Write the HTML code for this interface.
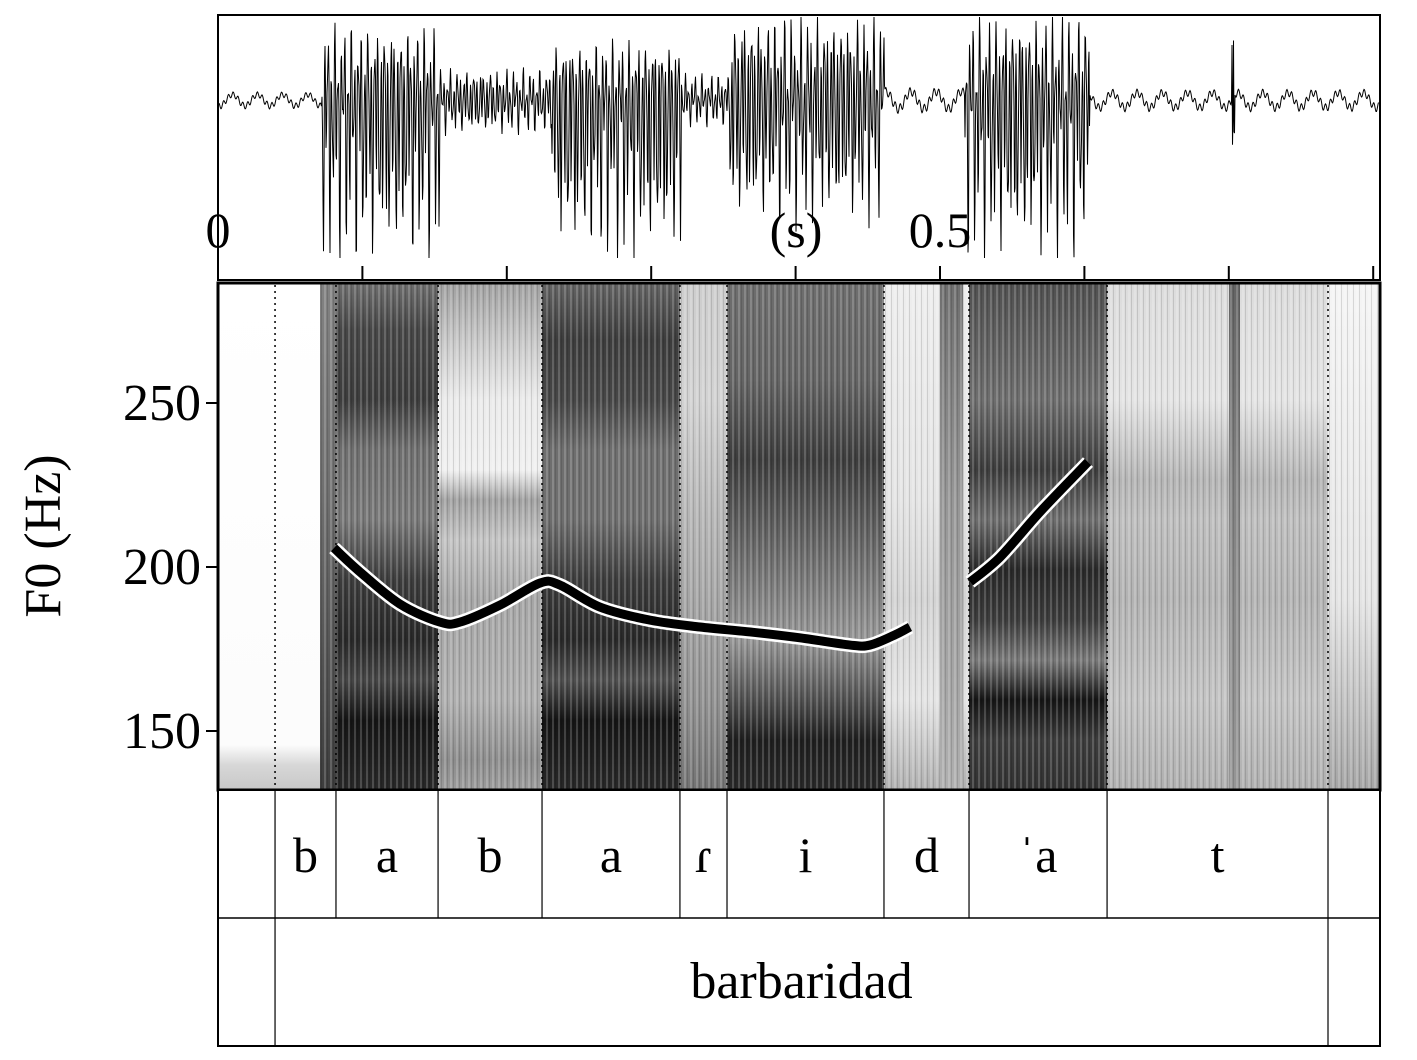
<!DOCTYPE html>
<html><head><meta charset="utf-8"><style>
html,body{margin:0;padding:0;background:#fff;}
svg{display:block;font-family:"Liberation Serif",serif;}
</style></head><body>
<svg id="fig" width="1417" height="1060" viewBox="0 0 1417 1060">
<defs id="defs"></defs>
<g id="spec"></g>
<g id="wave"></g>
<g id="axes"></g>
<g id="tiers"></g>
<g id="pitch"></g>
</svg>
<script>
// ---- data ----
const xTicks = [0,0.1,0.2,0.3,0.4,0.5,0.6,0.7,0.8];
const yTicks = [150,200,250];
const segBounds = [0.0395,0.0817,0.1524,0.2244,0.3199,0.3525,0.4612,0.5201,0.6157,0.7687];
const segLabels = ["b","a","b","a","ɾ","i","d","ˈa","t"];
const wordBounds = [0.0395,0.7687];
const wordLabels = ["barbaridad"];
const pitch1T = [0.0803,0.0983,0.126,0.1537,0.1676,0.1953,0.223,0.2368,0.2645,0.2992,0.3338,0.3684,0.4030,0.4377,0.4515,0.4688,0.4792];
const pitch1F = [205.8,198.5,188.7,183.2,183.2,188.4,195.1,194.5,187.8,183.8,181.7,180.2,178.4,176.2,176.2,179.3,181.7];
const pitch2T = [0.5208,0.5416,0.5693,0.6025];
const pitch2F = [195.4,203.0,216.8,232.0];

// ---- scales ----
const X0=218, PXS=1444;
const sx = t => X0 + t*PXS;
const sy = f => 731 - (f-150)*3.28;
const NS="http://www.w3.org/2000/svg";
function el(tag, attrs, parent){const e=document.createElementNS(NS,tag);for(const k in attrs)e.setAttribute(k,attrs[k]);parent.appendChild(e);return e;}
const defs=document.getElementById('defs');

// ---- spectrogram ----
const spec=document.getElementById('spec');
const cols=[
 [218,320,[[283,255],[745,252],[765,215],[790,200]]],
 [320,336,[[283,130],[500,110],[790,60]]],
 [336,438,[[283,110],[330,70],[400,60],[450,110],[520,120],[580,60],[640,40],[680,70],[720,20],[790,40]]],
 [438,542,[[283,160],[350,205],[400,235],[470,240],[500,160],[540,195],[600,165],[700,175],[760,140],[790,155]]],
 [542,680,[[283,100],[340,60],[400,70],[450,110],[520,110],[580,60],[640,40],[680,80],[720,20],[790,40]]],
 [680,727,[[283,205],[400,210],[500,185],[600,165],[700,145],[790,115]]],
 [727,884,[[283,110],[380,100],[460,60],[500,80],[560,110],[640,150],[700,80],[740,30],[790,40]]],
 [884,969,[[283,238],[500,228],[600,210],[700,228],[790,175]]],
 [969,1107,[[283,80],[400,110],[470,60],[520,110],[570,40],[620,60],[660,120],[700,20],[740,60],[790,50]]],
 [1107,1328,[[283,220],[400,228],[480,180],[520,190],[600,178],[700,195],[790,175]]],
 [1328,1380,[[283,245],[600,228],[790,165]]],
 [940,963,[[283,110],[500,150],[790,175]]],
 [1229,1240,[[283,100],[500,130],[790,150]]]
];
cols.forEach((c,i)=>{
  const g=el('linearGradient',{id:'g'+i,x1:0,y1:283,x2:0,y2:790,gradientUnits:'userSpaceOnUse'},defs);
  c[2].forEach(s=>{const v=s[1];el('stop',{offset:((s[0]-283)/507).toFixed(3),'stop-color':`rgb(${v},${v},${v})`},g);});
  const r=el('rect',{x:c[0],y:283,width:c[1]-c[0],height:507,fill:`url(#g${i})`},spec);
  
  
});
const pat=el('pattern',{id:'stripe',width:6,height:40,patternUnits:'userSpaceOnUse'},defs);
el('rect',{x:0,y:0,width:2,height:40,fill:'#fff',opacity:0.18},pat);
el('rect',{x:3,y:0,width:1,height:40,fill:'#000',opacity:0.12},pat);
el('rect',{x:320,y:283,width:1060,height:507,fill:'url(#stripe)'},spec);
el('rect',{x:218,y:283,width:1162,height:507,fill:'none',stroke:'#000','stroke-width':3},spec);
segBounds.forEach(t=>{
  const l=el('line',{x1:sx(t),x2:sx(t),y1:285,y2:789,stroke:'#000','stroke-width':1.5,'stroke-dasharray':'2 4'},spec);
  
  
});

// ---- waveform ----
const wave=document.getElementById('wave');
const env=[[218,322,9,10],[322,440,70,155],[440,552,30,32],[552,682,55,150],[682,730,25,25],[730,885,82,118],[885,965,14,15],[965,1090,80,150],[1090,1380,12,13]];
function amp(x){for(const e of env){if(x>=e[0]&&x<e[1])return e;}return env[env.length-1];}
let d='';
for(let x=219;x<1379;x+=0.5){
  const e=amp(x);
  let v=Math.sin(x*1.9)*0.6+Math.sin(x*0.77+1)*0.3+Math.sin(x*3.1)*0.25;
  if(e[2]<20) v=Math.sin(x*0.25)*0.6+Math.sin(x*1.3)*0.3;
  let y=v>0?100-v*e[2]:100-v*e[3];
  if(Math.abs(x-1233)<2) y=100-60*Math.sin(x*4);
  y=Math.max(17,Math.min(258,y));
  d+=(d?'L':'M')+x.toFixed(1)+' '+y.toFixed(1);
}
el('path',{d:d,fill:'none',stroke:'#000','stroke-width':1},wave);
el('rect',{x:218,y:15,width:1162,height:265,fill:'none',stroke:'#000','stroke-width':2},wave);

// ---- axes ----
const axes=document.getElementById('axes');
xTicks.forEach(t=>{
  const l=el('line',{x1:sx(t),x2:sx(t),y1:266,y2:280,stroke:'#000','stroke-width':2},axes);
  
  
});
[['0',218],['(s)',796],['0.5',940]].forEach(a=>{
  const tx=el('text',{x:a[1],y:247,'font-size':50,'text-anchor':'middle'},axes);tx.textContent=a[0];
  
  
});
yTicks.forEach(f=>{
  el('line',{x1:206,x2:218,y1:sy(f),y2:sy(f),stroke:'#000','stroke-width':2},axes);
  const tx=el('text',{x:201,y:sy(f)+17,'font-size':52,'text-anchor':'end'},axes);tx.textContent=f;
  
  
});
const yt=el('text',{x:0,y:0,'font-size':52,'text-anchor':'middle',transform:'translate(60,536) rotate(-90)'},axes);
yt.textContent='F0 (Hz)';



// ---- tiers ----
const tiers=document.getElementById('tiers');
el('rect',{x:218,y:790,width:1162,height:256,fill:'#fff',stroke:'#000','stroke-width':2},tiers);
el('line',{x1:218,x2:1380,y1:918,y2:918,stroke:'#000','stroke-width':1.5},tiers);
segBounds.forEach(t=>el('line',{x1:sx(t),x2:sx(t),y1:790,y2:918,stroke:'#000','stroke-width':1.2},tiers));
segLabels.forEach((s,i)=>{
  const tx=el('text',{x:(sx(segBounds[i])+sx(segBounds[i+1]))/2,y:872,'font-size':50,'text-anchor':'middle'},tiers);
  tx.textContent=s;
  
  
});
wordBounds.forEach(t=>el('line',{x1:sx(t),x2:sx(t),y1:918,y2:1046,stroke:'#000','stroke-width':1.2},tiers));
wordLabels.forEach((w,i)=>{
  const tx=el('text',{x:(sx(wordBounds[i])+sx(wordBounds[i+1]))/2,y:998,'font-size':52,'text-anchor':'middle'},tiers);
  tx.textContent=w;
  
  
});

// ---- pitch ----
const pitch=document.getElementById('pitch');
function smooth(T,F){
  const p=T.map((t,i)=>[sx(t),sy(F[i])]);
  let s='M'+p[0][0]+' '+p[0][1];
  for(let i=0;i<p.length-1;i++){
    const p0=p[i-1]||p[i],p1=p[i],p2=p[i+1],p3=p[i+2]||p2;
    s+=`C${p1[0]+(p2[0]-p0[0])/6} ${p1[1]+(p2[1]-p0[1])/6} ${p2[0]-(p3[0]-p1[0])/6} ${p2[1]-(p3[1]-p1[1])/6} ${p2[0]} ${p2[1]}`;
  }
  return s;
}
[[pitch1T,pitch1F],[pitch2T,pitch2F]].forEach(([T,F])=>{
  const d=smooth(T,F);
  el('path',{d:d,fill:'none',stroke:'#fff','stroke-width':14},pitch);
  const l=el('path',{d:d,fill:'none',stroke:'#000','stroke-width':9},pitch);
  
  
});
</script>
</body></html>
